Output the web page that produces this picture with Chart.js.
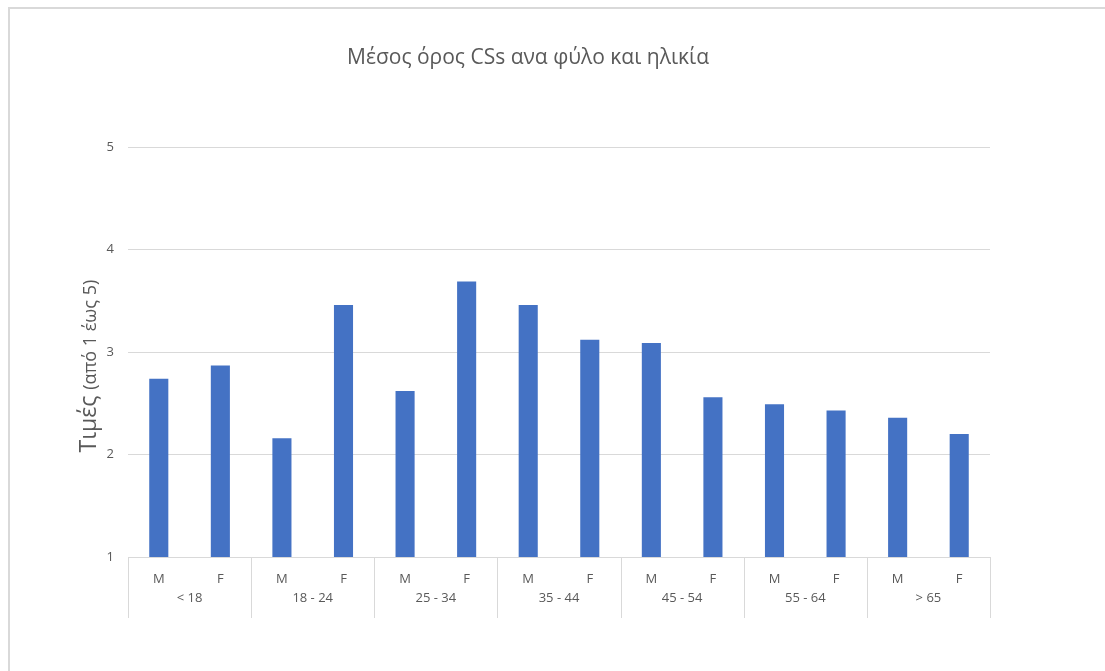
<!DOCTYPE html>
<html>
<head>
<meta charset="utf-8">
<script src="https://cdn.jsdelivr.net/npm/chart.js@4/dist/chart.umd.min.js"></script>
<style>
  html, body { margin: 0; padding: 0; background: #fff; }
  #frame {
    position: absolute; left: 8px; top: 7px;
    width: 1100px; height: 670px;
    border-left: 2px solid #d9d9d9; border-top: 2px solid #d9d9d9;
  }
  #wrap { position: absolute; left: 8px; top: 7px; width: 1040px; height: 620px; }
</style>
</head>
<body>
<div id="frame"></div>
<div id="wrap"><canvas id="csChart"></canvas></div>
<script>
const ageGroups = ["< 18", "18 - 24", "25 - 34", "35 - 44", "45 - 54", "55 - 64", "> 65"];
const sexes = ["M", "F"];
const meanScores = [2.74, 2.87, 2.16, 3.46, 2.62, 3.69, 3.46, 3.12, 3.09, 2.56, 2.49, 2.43, 2.36, 2.20];
const yTicks = [1, 2, 3, 4, 5];

const labels = [];
ageGroups.forEach(() => sexes.forEach(s => labels.push(s)));

const textColor = "#595959";
const lineColor = "#d9d9d9";
const fontFamily = "'Open Sans', 'Liberation Sans', sans-serif";

// group labels under the M/F ticks plus the separators between age groups
const groupAxis = {
  id: "groupAxis",
  afterDraw(chart) {
    const ctx = chart.ctx;
    const x = chart.scales.x;
    const area = chart.chartArea;
    const n = sexes.length;
    ctx.save();
    ctx.strokeStyle = lineColor;
    ctx.lineWidth = 1;
    for (let g = 0; g <= ageGroups.length; g++) {
      let px;
      if (g === 0) px = area.left;
      else if (g === ageGroups.length) px = area.right;
      else px = (x.getPixelForTick(g * n - 1) + x.getPixelForTick(g * n)) / 2;
      px = Math.round(px) + 0.5;
      ctx.beginPath();
      ctx.moveTo(px, area.bottom);
      ctx.lineTo(px, area.bottom + 61);
      ctx.stroke();
    }
    ctx.fillStyle = textColor;
    ctx.font = "13px " + fontFamily;
    ctx.textAlign = "center";
    ctx.textBaseline = "middle";
    ageGroups.forEach((name, g) => {
      const px = (x.getPixelForTick(g * n) + x.getPixelForTick(g * n + n - 1)) / 2;
      ctx.fillText(name, px, area.bottom + 41);
    });

    // y axis title: larger first word, smaller bracket
    const big = "Τιμές ";
    const small = "(από 1 έως 5)";
    ctx.font = "23px " + fontFamily;
    const wBig = ctx.measureText(big).width;
    ctx.font = "18px " + fontFamily;
    const wSmall = ctx.measureText(small).width;
    const cy = (area.top + area.bottom) / 2 + 14;
    ctx.translate(80, cy);
    ctx.rotate(-Math.PI / 2);
    ctx.textAlign = "left";
    ctx.textBaseline = "alphabetic";
    ctx.font = "23px " + fontFamily;
    ctx.fillText(big, -(wBig + wSmall) / 2, 8);
    ctx.font = "18px " + fontFamily;
    ctx.fillText(small, -(wBig + wSmall) / 2 + wBig, 8);
    ctx.restore();
  }
};

new Chart(document.getElementById("csChart"), {
  type: "bar",
  data: {
    labels: labels,
    datasets: [{
      data: meanScores,
      backgroundColor: "#4472C4",
      barPercentage: 0.31,
      categoryPercentage: 1.0
    }]
  },
  options: {
    responsive: true,
    maintainAspectRatio: false,
    animation: false,
    layout: { padding: { left: 58, right: 58, top: 0, bottom: 0 } },
    plugins: {
      legend: { display: false },
      tooltip: { enabled: false },
      title: {
        display: true,
        text: "Μέσος όρος CSs ανα φύλο και ηλικία",
        color: textColor,
        font: { family: fontFamily, size: 21, weight: "normal" },
        padding: { top: 38, bottom: 77 }
      }
    },
    scales: {
      x: {
        grid: { display: false },
        border: { display: true, color: lineColor },
        ticks: { color: textColor, font: { family: fontFamily, size: 13 }, padding: 6, maxRotation: 0 },
        afterFit(scale) { scale.height = 70; }
      },
      y: {
        min: 1,
        max: 5,
        afterBuildTicks(scale) { scale.ticks = yTicks.map(v => ({ value: v })); },
        grid: { color: lineColor, drawTicks: false },
        border: { display: false },
        ticks: { color: textColor, font: { family: fontFamily, size: 13 }, padding: 14 },
        afterFit(scale) { scale.width = 62; }
      }
    }
  },
  plugins: [groupAxis]
});
</script>
</body>
</html>
